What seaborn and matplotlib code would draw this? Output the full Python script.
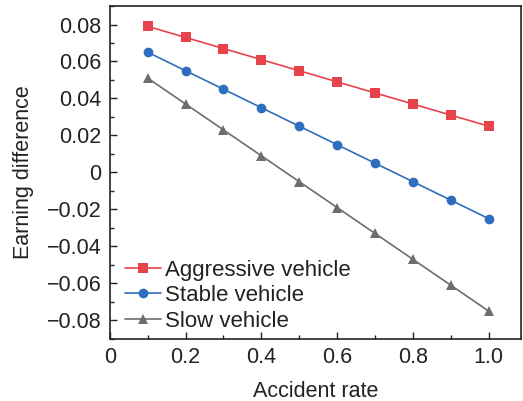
import matplotlib
matplotlib.use("Agg")
import matplotlib.pyplot as plt
import seaborn as sns
import pandas as pd
from matplotlib.ticker import MultipleLocator

accident_rate = [0.1, 0.2, 0.3, 0.4, 0.5, 0.6, 0.7, 0.8, 0.9, 1.0]
aggressive = [0.079, 0.073, 0.067, 0.061, 0.055, 0.049, 0.043, 0.037, 0.031, 0.025]
stable = [0.065, 0.055, 0.045, 0.035, 0.025, 0.015, 0.005, -0.005, -0.015, -0.025]
slow = [0.051, 0.037, 0.023, 0.009, -0.005, -0.019, -0.033, -0.047, -0.061, -0.075]
series_names = ["Aggressive vehicle", "Stable vehicle", "Slow vehicle"]
x_ticks = [0, 0.2, 0.4, 0.6, 0.8, 1.0]
x_tick_labels = ["0", "0.2", "0.4", "0.6", "0.8", "1.0"]
y_ticks = [-0.08, -0.06, -0.04, -0.02, 0, 0.02, 0.04, 0.06, 0.08]
y_tick_labels = ["\u22120.08", "\u22120.06", "\u22120.04", "\u22120.02", "0",
                 "0.02", "0.04", "0.06", "0.08"]

df = pd.DataFrame({
    "x": accident_rate * 3,
    "y": aggressive + stable + slow,
    "s": [series_names[0]] * 10 + [series_names[1]] * 10 + [series_names[2]] * 10,
})

sns.set_style("ticks")
plt.rcParams["font.family"] = ["Liberation Sans", "DejaVu Sans"]

fig = plt.figure(figsize=(5.23, 4.01), dpi=100)
ax = fig.add_axes([0.210, 0.155, 0.786, 0.830])

palette = {series_names[0]: "#e8434b", series_names[1]: "#2e6fbd", series_names[2]: "#6d6d6d"}
markers = {series_names[0]: "s", series_names[1]: "o", series_names[2]: "^"}
sns.lineplot(data=df, x="x", y="y", hue="s", style="s", palette=palette,
             markers=markers, dashes=False, markersize=7, linewidth=1.2,
             markeredgewidth=0, ax=ax)

ax.set_xlim(0, 1.085)
ax.set_ylim(-0.09, 0.09)
ax.set_xticks(x_ticks)
ax.set_xticklabels(x_tick_labels)
ax.xaxis.set_minor_locator(MultipleLocator(0.1))
ax.set_yticks(y_ticks)
ax.set_yticklabels(y_tick_labels)
ax.yaxis.set_minor_locator(MultipleLocator(0.01))
ax.tick_params(which="both", direction="in", labelsize=15.5, colors="#222222")
ax.tick_params(which="major", length=5, width=1, pad=6)
ax.tick_params(which="minor", length=3, width=1)
for sp in ax.spines.values():
    sp.set_linewidth(1.2)
    sp.set_color("#222222")

ax.set_xlabel("Accident rate", fontsize=15.5, color="#222222", labelpad=9)
ax.set_ylabel("Earning difference", fontsize=15.5, color="#222222", labelpad=9)

leg = ax.legend(loc="lower left", frameon=False, fontsize=16, handlelength=1.6,
                handletextpad=0.2, labelspacing=0.2, borderaxespad=0.3,
                bbox_to_anchor=(0.0, -0.025))
for t in leg.get_texts():
    t.set_color("#222222")

fig.savefig("out.png", dpi=100)
